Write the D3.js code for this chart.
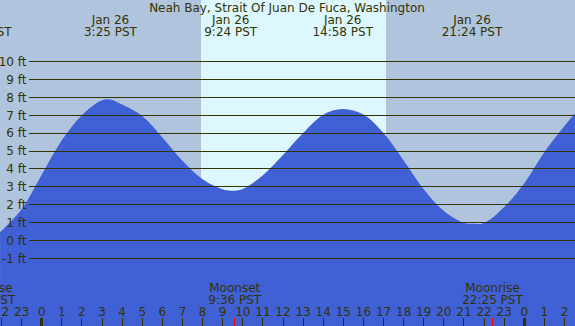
<!DOCTYPE html>
<html>
<head>
<meta charset="utf-8">
<script src="https://cdn.jsdelivr.net/npm/d3@7"></script>
<style>
    body { margin: 0; padding: 0; background: #ffffff; }
    svg { display: block; }
    text { font-family: "DejaVu Sans", sans-serif; font-size: 12px; fill: #333300; }
</style>
</head>
<body>
<div id="chart"></div>
<script>

// Tide height readings (hours from midnight Jan 26, feet), hourly plus the extremes
var tideHours = [-2.07, -1, 0, 1, 2, 3, 3.42, 4, 5, 6, 7, 8, 9, 9.40, 10, 11, 12, 13, 14, 14.97, 16, 17, 18, 19, 20, 21, 21.40, 22, 23, 24, 25, 26, 26.6];
var tideFeet  = [0.45, 1.74, 3.67, 5.6, 7.0, 7.83, 7.88, 7.6, 6.95, 5.75, 4.45, 3.42, 2.86, 2.78, 2.88, 3.65, 4.78, 6.0, 7.03, 7.35, 7.04, 6.0, 4.47, 2.86, 1.65, 0.98, 0.93, 0.98, 1.87, 3.2, 4.95, 6.4, 7.2];

// High / low tide labels along the top
var extremeHours = [-3.0, 3.42, 9.40, 14.97, 21.40];
var extremeDates = ["Jan 25", "Jan 26", "Jan 26", "Jan 26", "Jan 26"];
var extremeTimes = ["20:59 PST", "3:25 PST", "9:24 PST", "14:58 PST", "21:24 PST"];

// Moon events along the bottom
var moonHours = [-2.82, 9.60, 22.42];
var moonNames = ["Moonrise", "Moonset", "Moonrise"];
var moonTimes = ["21:11 PST", "9:36 PST", "22:25 PST"];

// Daylight (sunrise, sunset) in hours
var dayHours = [7.92, 17.12];

// Axis ticks
var feetTicks = [10, 9, 8, 7, 6, 5, 4, 3, 2, 1, 0, -1];
var hourTicks = d3.range(-2, 27);

var width = 575;
var height = 326;
var title = "Neah Bay, Strait Of Juan De Fuca, Washington";

var svg = d3.select("#chart").append("svg")
    .attr("width", width)
    .attr("height", height);

// Scales
var x = d3.scaleLinear().domain([0, 24]).range([41.7, 524.3]);
var y = d3.scaleLinear().domain([0, 10]).range([240.5, 61.5]);

// Night background then the daylight band
svg.append("rect")
    .attr("x", 0).attr("y", 0)
    .attr("width", width).attr("height", height)
    .attr("fill", "#b0c4de");

svg.append("rect")
    .attr("x", Math.round(x(dayHours[0])))
    .attr("y", 0)
    .attr("width", Math.round(x(dayHours[1])) - Math.round(x(dayHours[0])))
    .attr("height", height)
    .attr("fill", "#ddf7ff");

// Tide area down to the bottom edge
var tideData = tideHours.map(function (h, i) { return { h: h, ft: tideFeet[i] }; });
var area = d3.area()
    .x(function (d) { return x(d.h); })
    .y0(height)
    .y1(function (d) { return y(d.ft); })
    .curve(d3.curveCatmullRom.alpha(0.5));

svg.append("path")
    .datum(tideData)
    .attr("d", area)
    .attr("fill", "#4060d6");

// Horizontal foot lines
svg.selectAll(".ftLine").data(feetTicks).enter()
    .append("line")
    .attr("class", "ftLine")
    .attr("x1", 29).attr("x2", width)
    .attr("y1", function (d) { return y(d); })
    .attr("y2", function (d) { return y(d); })
    .attr("stroke", "#333300")
    .attr("stroke-width", 1)
    .attr("shape-rendering", "crispEdges");

svg.selectAll(".ftLabel").data(feetTicks).enter()
    .append("text")
    .attr("class", "ftLabel")
    .attr("x", 26.5)
    .attr("y", function (d) { return y(d); })
    .attr("dy", "0.36em")
    .attr("text-anchor", "end")
    .text(function (d) { return d + " ft"; });

// Title
svg.append("text")
    .attr("x", 287)
    .attr("y", 11.5)
    .attr("text-anchor", "middle")
    .text(title);

// Tide extreme labels
extremeHours.forEach(function (h, i) {
    svg.append("text")
        .attr("x", x(h)).attr("y", 23.5)
        .attr("text-anchor", "middle")
        .text(extremeDates[i]);
    svg.append("text")
        .attr("x", x(h)).attr("y", 35.5)
        .attr("text-anchor", "middle")
        .text(extremeTimes[i]);
});

// Moon labels
moonHours.forEach(function (h, i) {
    svg.append("text")
        .attr("x", x(h)).attr("y", 291.5)
        .attr("text-anchor", "middle")
        .text(moonNames[i]);
    svg.append("text")
        .attr("x", x(h)).attr("y", 303.5)
        .attr("text-anchor", "middle")
        .text(moonTimes[i]);
});

// Hour labels and ticks
svg.selectAll(".hourLabel").data(hourTicks).enter()
    .append("text")
    .attr("class", "hourLabel")
    .attr("x", function (d) { return x(d); })
    .attr("y", 316)
    .attr("text-anchor", "middle")
    .text(function (d) { return ((d % 24) + 24) % 24; });

svg.selectAll(".hourTick").data(hourTicks).enter()
    .append("line")
    .attr("class", "hourTick")
    .attr("x1", function (d) { return x(d); })
    .attr("x2", function (d) { return x(d); })
    .attr("y1", 318).attr("y2", height)
    .attr("stroke", "#333300")
    .attr("stroke-width", function (d) { return d % 24 == 0 ? 3 : 1; })
    .attr("shape-rendering", "crispEdges");

// Moon event ticks in red
svg.selectAll(".moonTick").data(moonHours).enter()
    .append("line")
    .attr("class", "moonTick")
    .attr("x1", function (d) { return x(d); })
    .attr("x2", function (d) { return x(d); })
    .attr("y1", 318).attr("y2", height)
    .attr("stroke", "#ff0000")
    .attr("stroke-width", 1)
    .attr("shape-rendering", "crispEdges");

</script>
</body>
</html>
